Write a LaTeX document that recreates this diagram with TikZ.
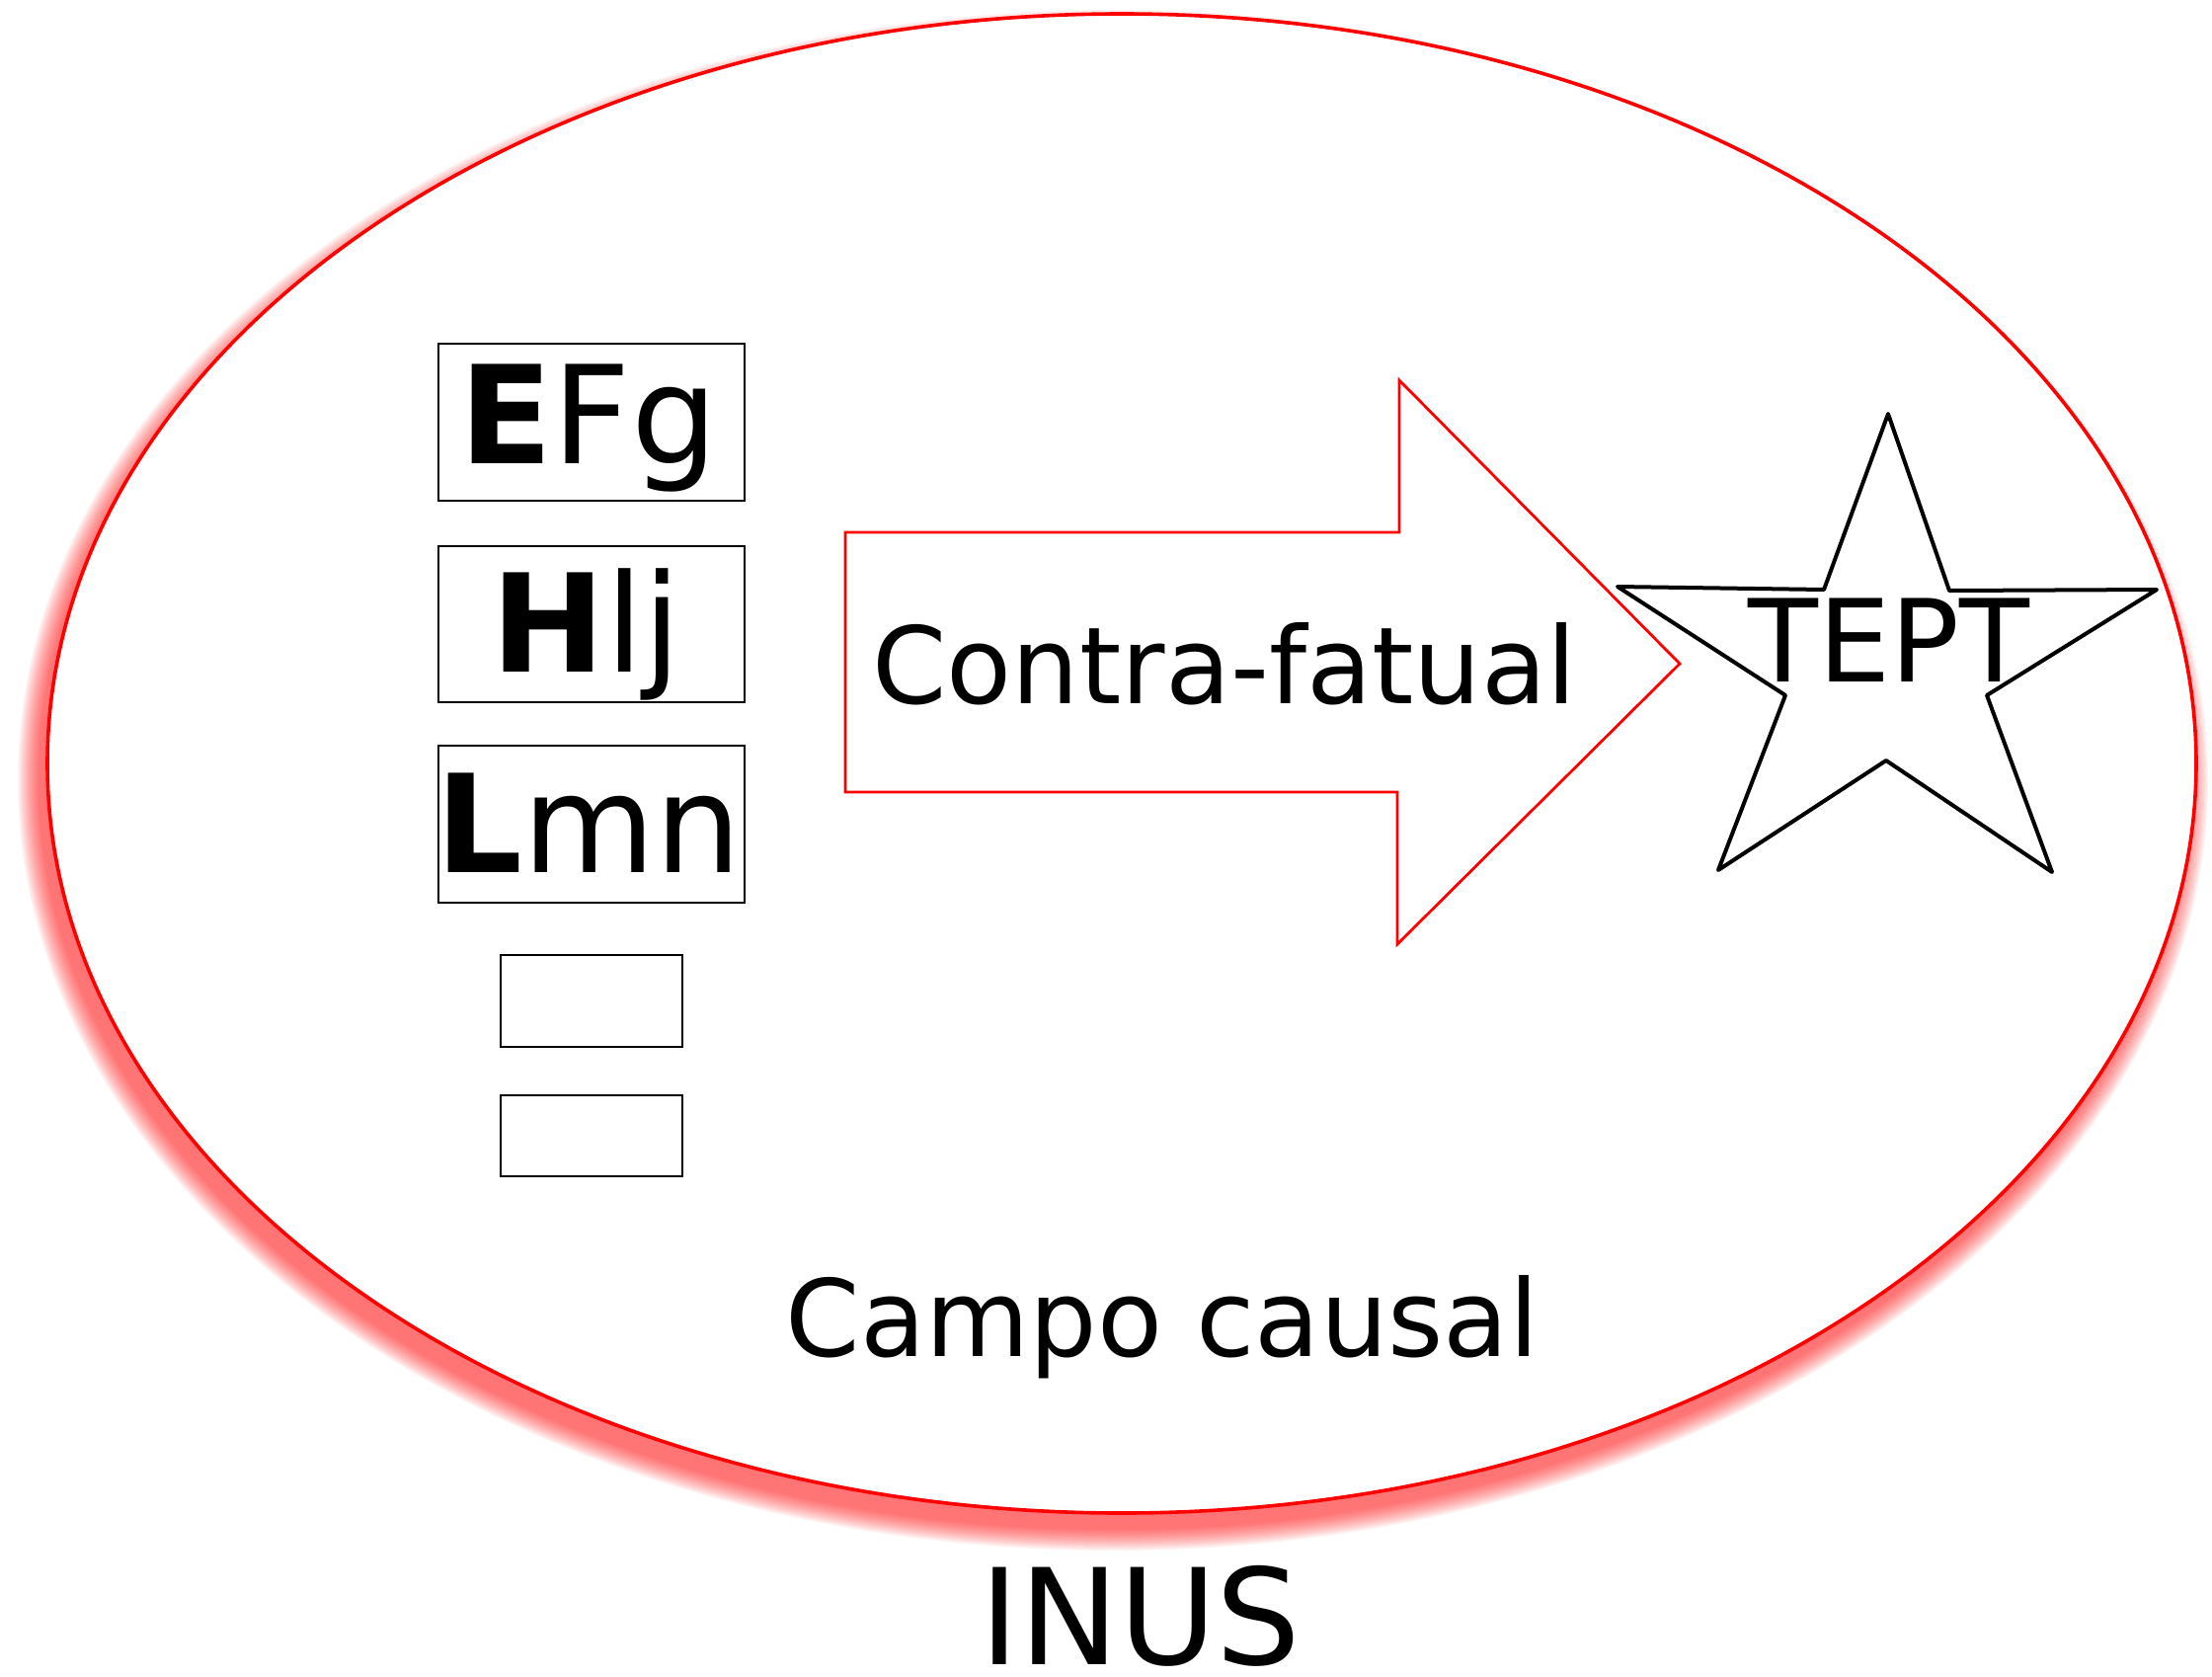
\documentclass[tikz,border=0pt]{standalone}
\usepackage{fontspec}
\setmainfont{DejaVu Sans}
\tikzset{
  box/.style={draw=black, line width=1.35pt, inner sep=0pt, fill=white},
  lbl/.style={anchor=base, inner sep=0pt, text=black},
  glow/.style={fill=red, opacity=0.05, draw=none},
}
\begin{document}
\begin{tikzpicture}[x=0.5pt, y=-0.5pt]
\useasboundingbox (0,0) rectangle (2240,1698);
% glow (soft shadow towards lower left)
\foreach \d in {0,1.5,...,21} {
  \fill[glow] (1127,790) ellipse [x radius=1088+\d, y radius=759+\d];
}
% causal field
\draw[red, line width=1.8pt, fill=white]
  (1136,773) ellipse [x radius=1088, y radius=759];
% factor boxes
\node[box, minimum width=155pt, minimum height=79.5pt] (efgbox) at (599,427.5) {};
\node[box, minimum width=155pt, minimum height=79pt] (hljbox) at (599,632) {};
\node[box, minimum width=155pt, minimum height=79.5pt] (lmnbox) at (599,834.5) {};
\node[box, line width=0.9pt, minimum width=92pt, minimum height=46.5pt] (blank1) at (599,1013.5) {};
\node[box, line width=0.9pt, minimum width=92pt, minimum height=41pt] (blank2) at (599,1150) {};
\node[lbl, font=\fontsize{69}{80}\selectfont] (efg) at (596,469) {\textbf{E}Fg};
\node[lbl, font=\fontsize{69}{80}\selectfont] (hlj) at (594,680) {\textbf{H}lj};
\node[lbl, font=\fontsize{69}{80}\selectfont] (lmn) at (596,883) {\textbf{L}mn};
% counterfactual arrow
\draw[red, line width=1.4pt, line join=miter]
  (856,539) -- (1417,539) -- (1417,385) -- (1701,672) -- (1415,956) -- (1415,802) -- (856,802) -- cycle;
\node[lbl, font=\fontsize{54}{64}\selectfont] (contra) at (1240,712) {Contra-fatual};
% star
\draw[black, line width=2pt, line join=round]
  (1912,419) -- (1974,598) -- (2184,597) -- (2012,704) -- (2078,883) -- (1910,770)
  -- (1740,881) -- (1808,704) -- (1638,594) -- (1847,597) -- cycle;
\node[lbl, font=\fontsize{58}{68}\selectfont] (tept) at (1913,690) {TEPT};
% captions
\node[lbl, font=\fontsize{54}{64}\selectfont] (campo) at (1177,1373) {Campo causal};
\node[lbl, font=\fontsize{67.5}{78}\selectfont] (inus) at (1155,1685) {INUS};
\end{tikzpicture}
\end{document}
